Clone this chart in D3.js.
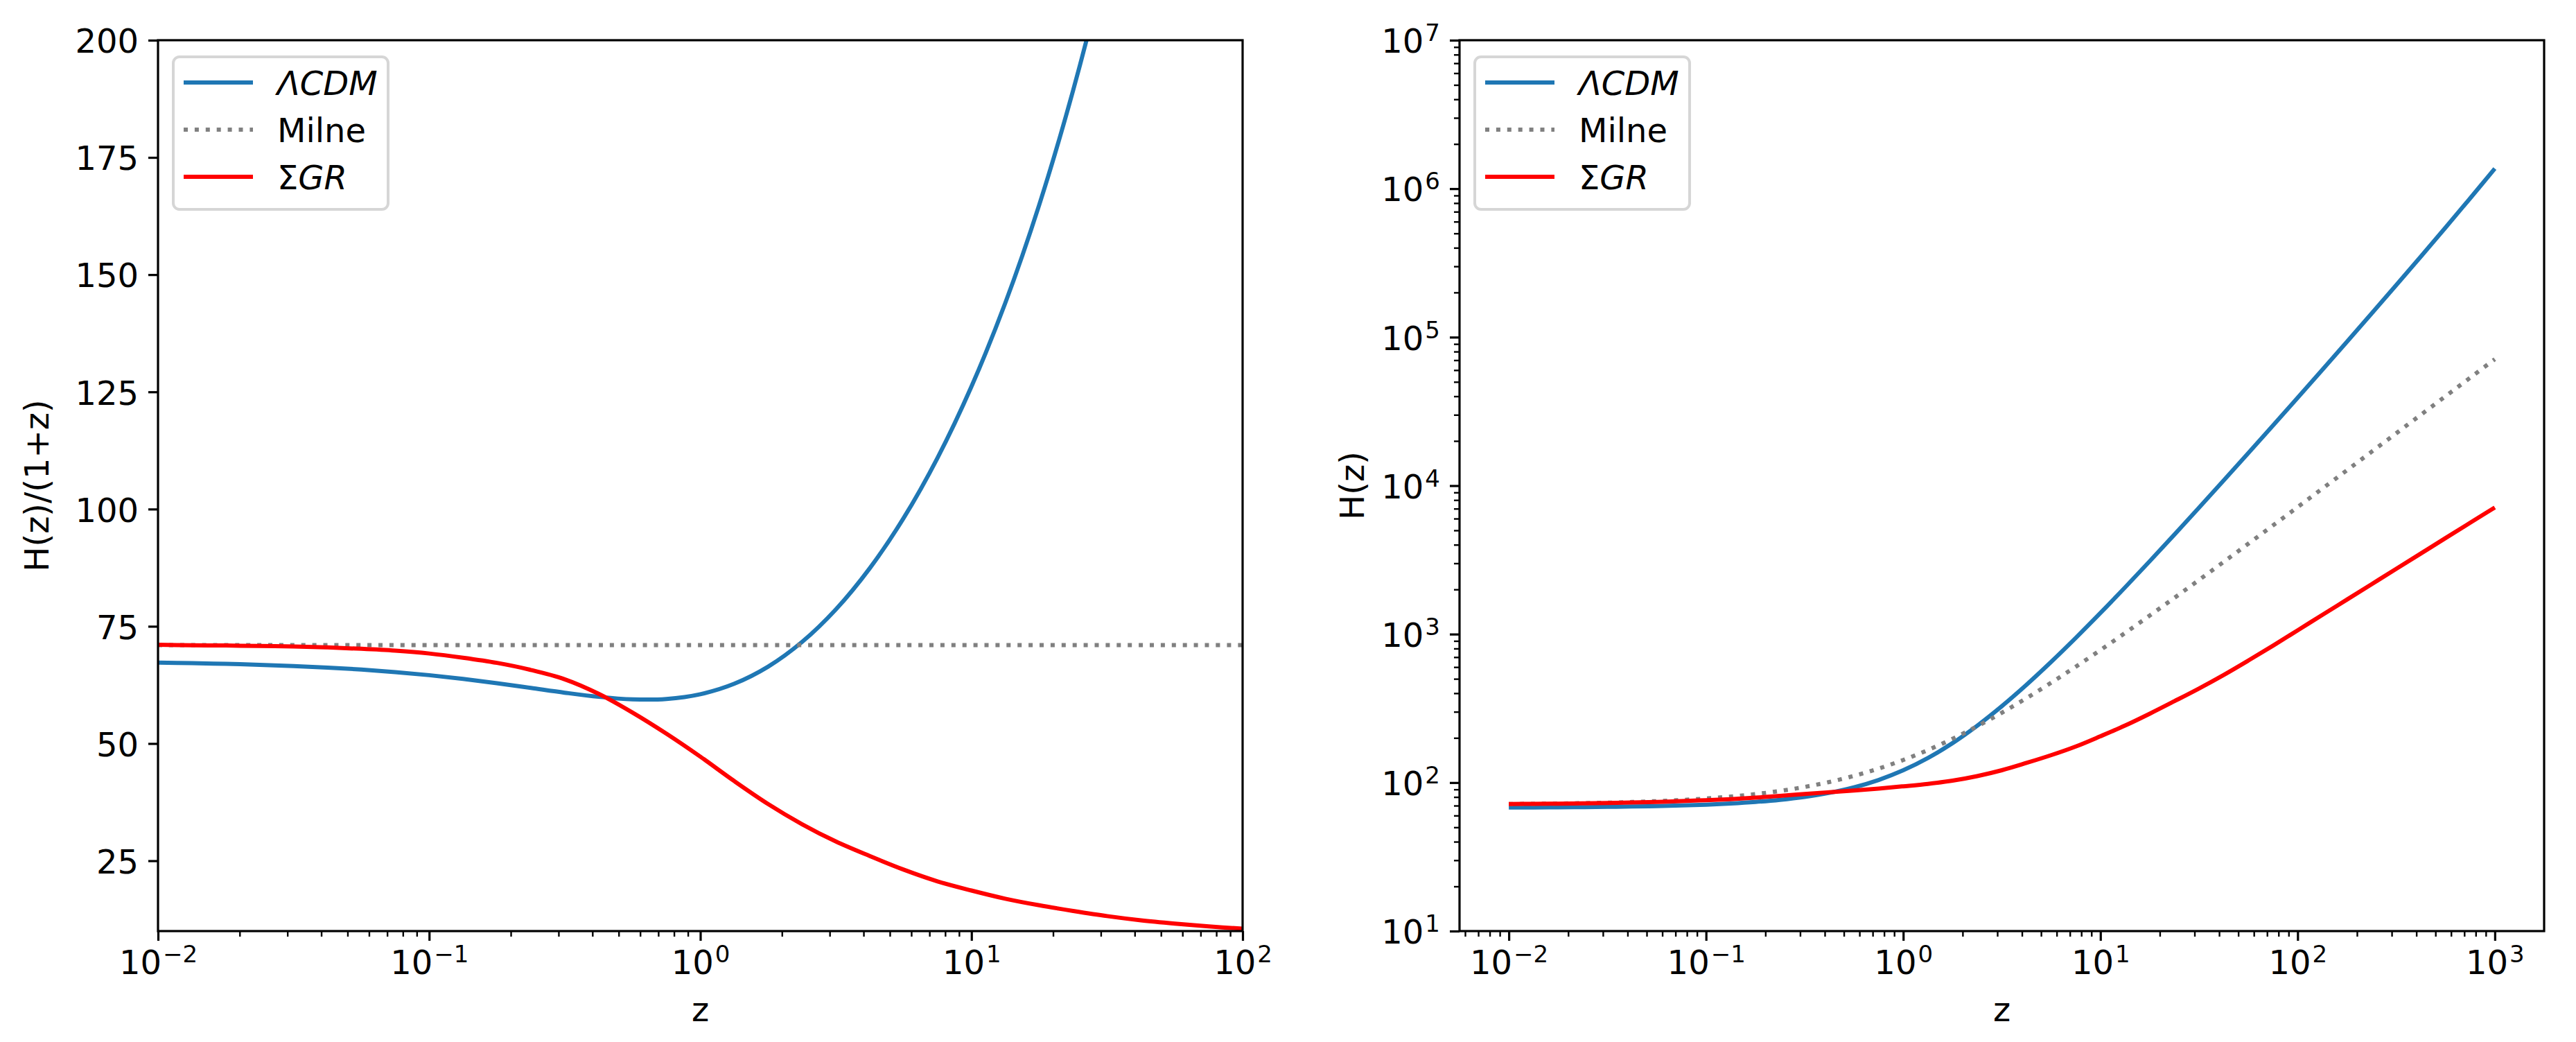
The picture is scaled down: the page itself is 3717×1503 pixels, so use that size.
<!DOCTYPE html>
<html><head><meta charset="utf-8">
<script src="https://cdn.jsdelivr.net/npm/d3@7"></script>
<style>
html,body{margin:0;padding:0;background:#fff}
svg{display:block}
</style>
</head><body>
<svg id="fig" width="3717" height="1503"></svg>
<script>
// ---------------- data ----------------
const zValues = [0.01, 0.013335, 0.017783, 0.023714, 0.031623, 0.04217, 0.056234, 0.074989,
  0.1, 0.13335, 0.17783, 0.23714, 0.31623, 0.4217, 0.56234, 0.74989,
  1, 1.3335, 1.7783, 2.3714, 3.1623, 4.217, 5.6234, 7.4989,
  10, 13.335, 17.783, 23.714, 31.623, 42.17, 56.234, 74.989,
  100, 133.35, 177.83, 237.14, 316.23, 421.7, 562.34, 749.89, 1000];

// left panel: H(z)/(1+z), z from 0.01 to 100 (first 33 z values)
const lcdmRatio = [67.25, 67.14, 66.99, 66.79, 66.53, 66.20, 65.78, 65.24,
  64.58, 63.79, 62.87, 61.86, 60.84, 59.96, 59.43, 59.51,
  60.52, 62.74, 66.39, 71.65, 78.61, 87.39, 98.10, 110.94,
  126.14, 144.00, 164.91, 189.31, 217.74, 250.85, 289.42, 334.39, 386.88];
const milneRatio = [71, 71, 71, 71, 71, 71, 71, 71, 71, 71, 71, 71, 71, 71, 71, 71,
  71, 71, 71, 71, 71, 71, 71, 71, 71, 71, 71, 71, 71, 71, 71, 71, 71];
const sgrRatio = [71.05, 70.95, 70.9, 70.8, 70.7, 70.5, 70.2, 69.8,
  69.2, 68.3, 67.2, 65.7, 63.7, 60.6, 56.6, 52.1,
  47.2, 42.0, 37.1, 32.8, 29.1, 26.0, 23.1, 20.6,
  18.65, 16.9, 15.5, 14.3, 13.2, 12.3, 11.6, 11.0, 10.5];

// right panel: H(z), z from 0.01 to 1000
const lcdmH = [67.93, 68.04, 68.18, 68.37, 68.64, 68.99, 69.48, 70.13,
  71.04, 72.30, 74.05, 76.53, 80.08, 85.25, 92.85, 104.14,
  121.03, 146.40, 184.46, 241.55, 327.2, 455.9, 649.8, 942.9,
  1387.5, 2064.3, 3097.5, 4678.6, 7103.3, 10829, 16565, 25410,
  39075, 60230, 93072, 144195, 224080, 349485, 547436, 862035, 1365980];
const milneH = [71.71, 71.95, 72.26, 72.68, 73.25, 73.99, 74.99, 76.32,
  78.10, 80.47, 83.63, 87.84, 93.45, 100.94, 110.93, 124.24,
  142.0, 165.68, 197.26, 239.37, 295.52, 370.41, 470.26, 603.42,
  781, 1017.8, 1333.6, 1754.7, 2316.2, 3065.1, 4063.6, 5395.2,
  7171, 9538.9, 12697, 16908, 22523, 30012, 39997, 53313, 71071];
const sgrH = [71.76, 71.90, 72.16, 72.48, 72.94, 73.47, 74.15, 75.03,
  76.12, 77.41, 79.15, 81.28, 83.84, 86.16, 88.43, 91.17,
  94.4, 98.01, 103.07, 110.58, 121.12, 135.64, 153.0, 175.08,
  205.15, 242.26, 291.14, 353.41, 430.62, 531.0, 663.91, 835.88,
  1060.5, 1346.2, 1707.8, 2167.1, 2750.4, 3491.5, 4433.5, 5624.2, 7127.1];

const seriesNames = ["ΛCDM", "Milne", "ΣGR"];
const leftYTicks = [25, 50, 75, 100, 125, 150, 175, 200];
const leftXTickExps = [-2, -1, 0, 1, 2];
const rightXTickExps = [-2, -1, 0, 1, 2, 3];
const rightYTickExps = [1, 2, 3, 4, 5, 6, 7];
const leftYLabel = "H(z)/(1+z)";
const rightYLabel = "H(z)";
const xLabel = "z";

// ---------------- styles / layout ----------------
const FONT = "DejaVu Sans";
const FS = 48, SUPFS = 34;
const colors = ["#1f77b4", "#808080", "#ff0000"];
const dashes = [null, "6,9.9", null];
const LW = 6;
const yTop = 58, yBot = 1343;
const panels = [{x0: 228, x1: 1793}, {x0: 2106, x1: 3671}];

const svg = d3.select("#fig");
svg.append("rect").attr("width", 3717).attr("height", 1503).attr("fill", "#fff");

const minusify = e => (e < 0 ? "\u2212" + (-e) : String(e));
const isPow10 = v => Math.abs(Math.log10(v) - Math.round(Math.log10(v))) < 1e-9;

function styleAxis(g, width) {
  g.select(".domain").remove();
  g.selectAll(".tick line").attr("stroke", "#000").attr("stroke-width", width);
  g.attr("font-family", FONT).attr("font-size", FS);
  g.selectAll(".tick text").attr("fill", "#000");
}

function powLabels(g) {
  g.selectAll(".tick text").each(function (d) {
    const t = d3.select(this);
    t.text(null);
    t.append("tspan").text("10");
    t.append("tspan").attr("font-size", SUPFS).attr("dx", 2).attr("dy", -17)
      .text(minusify(Math.round(Math.log10(d))));
  });
}

function drawPanel(idx, xScale, yScale, zs, seriesVals, opts) {
  const p = panels[idx];
  const g = svg.append("g");
  const clipId = "clip" + idx;
  svg.append("defs").append("clipPath").attr("id", clipId)
    .append("rect").attr("x", p.x0).attr("y", yTop).attr("width", p.x1 - p.x0).attr("height", yBot - yTop);

  const line = d3.line()
    .x(d => xScale(d[0])).y(d => yScale(d[1]))
    .curve(d3.curveCatmullRom.alpha(0.5));

  const lg = g.append("g").attr("clip-path", `url(#${clipId})`);
  seriesVals.forEach((vals, i) => {
    const pts = zs.map((z, k) => [z, vals[k]]);
    const path = lg.append("path").datum(pts).attr("d", line)
      .attr("fill", "none").attr("stroke", colors[i]).attr("stroke-width", LW)
      .attr("stroke-linejoin", "round").attr("stroke-linecap", "butt");
    if (dashes[i]) path.attr("stroke-dasharray", dashes[i]);
  });

  // x axis minor + major
  const xMin = xScale.ticks().filter(v => !isPow10(v));
  const gxm = g.append("g").attr("transform", `translate(0,${yBot})`)
    .call(d3.axisBottom(xScale).tickValues(xMin).tickSize(8).tickFormat(() => ""));
  styleAxis(gxm, 2.4);
  const gx = g.append("g").attr("transform", `translate(0,${yBot})`)
    .call(d3.axisBottom(xScale).tickValues(opts.xMajor).tickSize(14).tickPadding(14));
  styleAxis(gx, 3.2);
  powLabels(gx);

  // y axis
  if (opts.yLog) {
    const yMin = yScale.ticks().filter(v => !isPow10(v));
    const gym = g.append("g").attr("transform", `translate(${p.x0},0)`)
      .call(d3.axisLeft(yScale).tickValues(yMin).tickSize(8).tickFormat(() => ""));
    styleAxis(gym, 2.4);
  }
  const gy = g.append("g").attr("transform", `translate(${p.x0},0)`)
    .call(d3.axisLeft(yScale).tickValues(opts.yMajor).tickSize(14).tickPadding(14)
      .tickFormat(d3.format("d")));
  styleAxis(gy, 3.2);
  gy.selectAll(".tick text").attr("dy", "0.37em");
  if (opts.yLog) powLabels(gy);

  // spines
  g.append("rect").attr("x", p.x0).attr("y", yTop).attr("width", p.x1 - p.x0).attr("height", yBot - yTop)
    .attr("fill", "none").attr("stroke", "#000").attr("stroke-width", 3.2);

  // axis labels
  g.append("text").attr("x", (p.x0 + p.x1) / 2).attr("y", 1473).attr("text-anchor", "middle")
    .attr("font-family", FONT).attr("font-size", FS).text(xLabel);
  g.append("text").attr("transform", `translate(${opts.yLabelX},${(yTop + yBot) / 2}) rotate(-90)`)
    .attr("text-anchor", "middle").attr("font-family", FONT).attr("font-size", FS).text(opts.yLabel);

  // legend
  const L = g.append("g").attr("transform", `translate(${p.x0},${yTop})`);
  L.append("rect").attr("x", 22).attr("y", 24).attr("width", 310).attr("height", 220)
    .attr("rx", 9).attr("ry", 9)
    .attr("fill", "#fff").attr("fill-opacity", 0.8)
    .attr("stroke", "#cccccc").attr("stroke-opacity", 0.8).attr("stroke-width", 4);
  const rows = [61, 129, 197];
  seriesNames.forEach((name, i) => {
    const hl = L.append("line").attr("x1", 37).attr("x2", 137).attr("y1", rows[i]).attr("y2", rows[i])
      .attr("stroke", colors[i]).attr("stroke-width", LW);
    if (dashes[i]) hl.attr("stroke-dasharray", dashes[i]);
    const t = L.append("text").attr("x", 172).attr("y", rows[i] + 17.5)
      .attr("font-family", FONT).attr("font-size", FS).attr("fill", "#000");
    if (i === 0) {
      t.append("tspan").attr("font-style", "italic").text(name);
    } else if (i === 2) {
      t.append("tspan").text(name.slice(0, 1));
      t.append("tspan").attr("font-style", "italic").text(name.slice(1));
    } else {
      t.text(name);
    }
  });
}

// left panel
const xL = d3.scaleLog().domain([1e-2, 1e2]).range([panels[0].x0, panels[0].x1]);
const yL = d3.scaleLinear().domain([10, 200]).range([yBot, yTop]);
const leftZ = zValues.slice(0, 33);
drawPanel(0, xL, yL, leftZ, [lcdmRatio, milneRatio, sgrRatio], {
  xMajor: leftXTickExps.map(e => Math.pow(10, e)),
  yMajor: leftYTicks, yLog: false, yLabel: leftYLabel, yLabelX: 70
});

// right panel
const xR = d3.scaleLog().domain([Math.pow(10, -2.25), Math.pow(10, 3.25)]).range([panels[1].x0, panels[1].x1]);
const yR = d3.scaleLog().domain([1e1, 1e7]).range([yBot, yTop]);
drawPanel(1, xR, yR, zValues, [lcdmH, milneH, sgrH], {
  xMajor: rightXTickExps.map(e => Math.pow(10, e)),
  yMajor: rightYTickExps.map(e => Math.pow(10, e)), yLog: true, yLabel: rightYLabel, yLabelX: 1968
});
</script>
</body></html>
